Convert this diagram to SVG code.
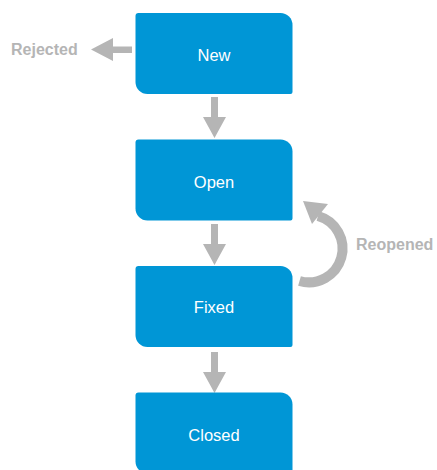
<svg xmlns="http://www.w3.org/2000/svg" width="437" height="470" viewBox="0 0 437 470">
<style>
.box{fill:#0096d6}
.lbl{font-family:"Liberation Sans",Arial,sans-serif;font-size:16.5px;fill:#ffffff;text-anchor:middle}
.gl{font-family:"Liberation Sans",Arial,sans-serif;font-size:16px;font-weight:bold;fill:#b5b5b5}
.ar{fill:#b5b5b5}
</style>
<defs>
<path id="bx" d="M3,0 H145 A12,12 0 0 1 157,12 V79 Q157,81 155,81 H12 A12,12 0 0 1 0,69 V3 Q0,0 3,0 Z"/>
<path id="va" d="M-3.5,0 H3.5 V20 H11.5 L0,41 L-11.5,20 H-3.5 Z"/>
</defs>
<g id="connectors">
<use href="#va" class="ar" x="214.5" y="97"/>
<use href="#va" class="ar" x="214.5" y="224"/>
<use href="#va" class="ar" x="214.5" y="352"/>
<path class="ar" d="M132,46.5 V53 H113 V61 L91,49.5 L113,38 V46.5 Z"/>
<path d="M299.5,281 A33,33 0 0 0 318,216" fill="none" stroke="#b5b5b5" stroke-width="10"/>
<path class="ar" d="M303,201 L328,204 L312,224 Z"/>
</g>
<g id="node-new"><use href="#bx" class="box" x="135.5" y="13"/><text class="lbl" x="214" y="61">New</text></g>
<g id="node-open"><use href="#bx" class="box" x="135.5" y="139.5"/><text class="lbl" x="214" y="187.5">Open</text></g>
<g id="node-fixed"><use href="#bx" class="box" x="135.5" y="266"/><text class="lbl" x="214" y="312.5">Fixed</text></g>
<g id="node-closed"><use href="#bx" class="box" x="135.5" y="392.5"/><text class="lbl" x="214" y="440.5">Closed</text></g>
<g id="label-rejected"><text class="gl" x="11" y="55">Rejected</text></g>
<g id="label-reopened"><text class="gl" x="356" y="250">Reopened</text></g>
</svg>
